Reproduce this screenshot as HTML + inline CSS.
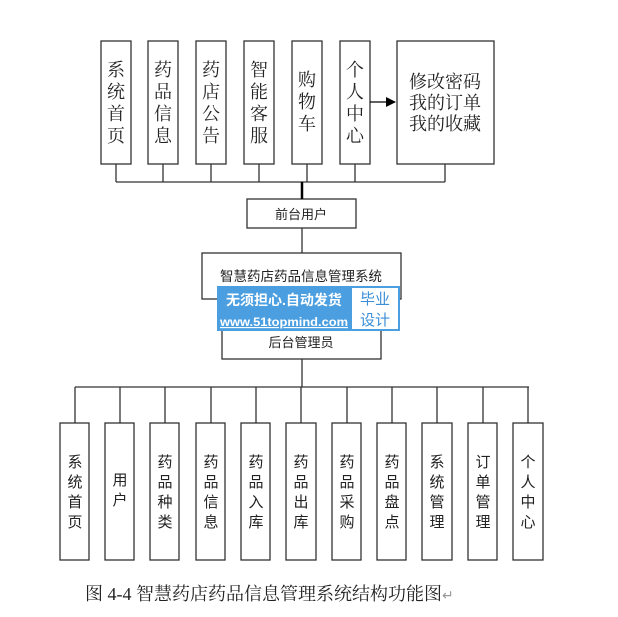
<!DOCTYPE html>
<html><head><meta charset="utf-8"><style>
html,body{margin:0;padding:0;background:#fff;}
svg{display:block;}
text{font-family:"Liberation Sans","Noto Sans CJK SC",sans-serif;fill:#222;}
.s{font-family:"Liberation Serif","Noto Serif CJK SC",serif;}
</style></head><body>
<svg width="618" height="617" viewBox="0 0 618 617" xmlns="http://www.w3.org/2000/svg">
<defs><marker id="ar" markerWidth="10" markerHeight="10" refX="9" refY="5" orient="auto" markerUnits="userSpaceOnUse"><path d="M0,0 L10,5 L0,10 z" fill="#000"/></marker></defs>
<g fill="#fff" stroke="#333" stroke-width="1.3">
<rect x="101" y="41" width="30" height="123"/>
<rect x="148" y="41" width="30" height="123"/>
<rect x="196" y="41" width="30" height="123"/>
<rect x="244" y="41" width="30" height="123"/>
<rect x="292" y="41" width="30" height="123"/>
<rect x="340" y="41" width="30" height="123"/>
<rect x="397" y="41" width="97" height="123"/>
<rect x="247" y="199" width="109" height="29"/>
<rect x="202" y="253" width="199" height="46"/>
<rect x="222" y="320" width="159" height="39"/>
</g>
<g stroke="#333" stroke-width="1.3" fill="none">
<path d="M116,164V182M163,164V182M211,164V182M259,164V182M307,164V182M355,164V182M445,164V182M116,182H445"/>
<path d="M302,182V199" stroke="#000" stroke-width="2.5"/>
<path d="M302,228V253"/>
<path d="M370,102H395" stroke="#000" marker-end="url(#ar)"/>
<path d="M302,359V387M75,387H529"/>
<path d="M75,387V423M120,387V423M165,387V423M211,387V423M256,387V423M301,387V423M347,387V423M392,387V423M437,387V423M483,387V423M528,387V423"/>
</g>
<g fill="#fff" stroke="#333" stroke-width="1.3">
<rect x="60" y="423" width="29" height="137"/>
<rect x="105" y="423" width="29" height="137"/>
<rect x="150" y="423" width="29" height="137"/>
<rect x="196" y="423" width="29" height="137"/>
<rect x="241" y="423" width="29" height="137"/>
<rect x="286" y="423" width="30" height="137"/>
<rect x="332" y="423" width="29" height="137"/>
<rect x="377" y="423" width="29" height="137"/>
<rect x="422" y="423" width="30" height="137"/>
<rect x="468" y="423" width="29" height="137"/>
<rect x="513" y="423" width="30" height="137"/>
</g>
<g font-size="18" text-anchor="middle">
<text x="116" y="76" class="s">系</text><text x="116" y="98" class="s">统</text><text x="116" y="120" class="s">首</text><text x="116" y="142" class="s">页</text>
<text x="163" y="76" class="s">药</text><text x="163" y="98" class="s">品</text><text x="163" y="120" class="s">信</text><text x="163" y="142" class="s">息</text>
<text x="211" y="76" class="s">药</text><text x="211" y="98" class="s">店</text><text x="211" y="120" class="s">公</text><text x="211" y="142" class="s">告</text>
<text x="259" y="76" class="s">智</text><text x="259" y="98" class="s">能</text><text x="259" y="120" class="s">客</text><text x="259" y="142" class="s">服</text>
<text x="307" y="86" class="s">购</text><text x="307" y="108" class="s">物</text><text x="307" y="130" class="s">车</text>
<text x="355" y="76" class="s">个</text><text x="355" y="98" class="s">人</text><text x="355" y="120" class="s">中</text><text x="355" y="142" class="s">心</text>
<text x="445" y="88" class="s">修改密码</text><text x="445" y="109" class="s">我的订单</text><text x="445" y="130" class="s">我的收藏</text>
</g>
<text x="301" y="219" font-size="13" text-anchor="middle">前台用户</text>
<text x="301" y="281" font-size="13.5" text-anchor="middle">智慧药店药品信息管理系统</text>
<text x="301" y="347" font-size="13" text-anchor="middle">后台管理员</text>
<rect x="217" y="286" width="183" height="45" fill="#4b9fe1"/>
<rect x="352" y="288" width="46" height="41" fill="#fff"/>
<text x="284" y="305" font-size="14" font-weight="bold" text-anchor="middle" style="fill:#fff">无须担心.自动发货</text>
<text x="284" y="326" font-size="11.5" font-weight="bold" text-anchor="middle" textLength="128" lengthAdjust="spacingAndGlyphs" style="fill:#fff;text-decoration:underline">www.51topmind.com</text>
<text x="375" y="304" font-size="15" text-anchor="middle" style="fill:#3b8fd8">毕业</text>
<text x="375" y="325" font-size="15" text-anchor="middle" style="fill:#3b8fd8">设计</text>
<g font-size="15" text-anchor="middle">
<text x="75" y="467">系</text><text x="75" y="487">统</text><text x="75" y="507">首</text><text x="75" y="527">页</text>
<text x="120" y="485">用</text><text x="120" y="505">户</text>
<text x="165" y="467">药</text><text x="165" y="487">品</text><text x="165" y="507">种</text><text x="165" y="527">类</text>
<text x="211" y="467">药</text><text x="211" y="487">品</text><text x="211" y="507">信</text><text x="211" y="527">息</text>
<text x="256" y="467">药</text><text x="256" y="487">品</text><text x="256" y="507">入</text><text x="256" y="527">库</text>
<text x="301" y="467">药</text><text x="301" y="487">品</text><text x="301" y="507">出</text><text x="301" y="527">库</text>
<text x="347" y="467">药</text><text x="347" y="487">品</text><text x="347" y="507">采</text><text x="347" y="527">购</text>
<text x="392" y="467">药</text><text x="392" y="487">品</text><text x="392" y="507">盘</text><text x="392" y="527">点</text>
<text x="437" y="467">系</text><text x="437" y="487">统</text><text x="437" y="507">管</text><text x="437" y="527">理</text>
<text x="483" y="467">订</text><text x="483" y="487">单</text><text x="483" y="507">管</text><text x="483" y="527">理</text>
<text x="528" y="467">个</text><text x="528" y="487">人</text><text x="528" y="507">中</text><text x="528" y="527">心</text>
</g>
<text x="85" y="600" font-size="18" class="s">图 4-4 智慧药店药品信息管理系统结构功能图<tspan fill="#999" font-size="14">↵</tspan></text>
</svg>
</body></html>
